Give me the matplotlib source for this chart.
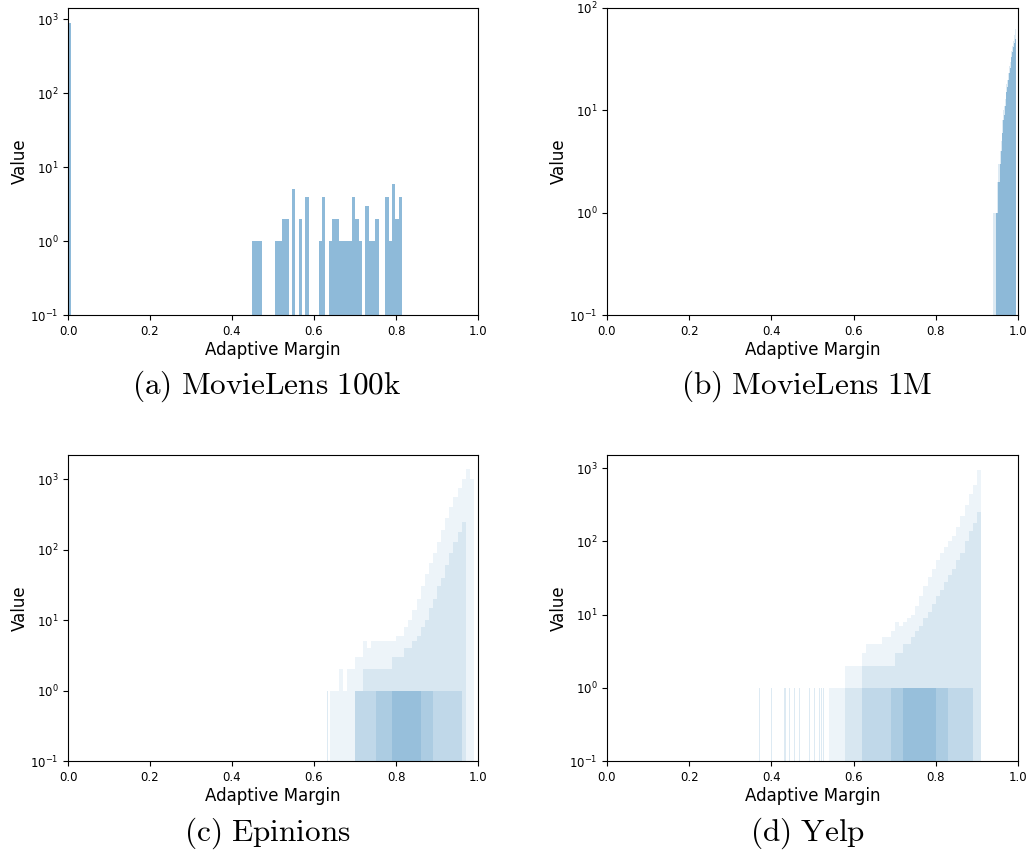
import numpy as np
import matplotlib
matplotlib.use("Agg")
import matplotlib.pyplot as plt
from matplotlib.ticker import NullLocator

plt.rcParams['mathtext.fontset'] = 'cm'

# (a) MovieLens 100k: 100 bins between 0 and 0.815, counts per bin index
a_edges = np.linspace(0, 0.815, 101)
a_counts = np.zeros(100)
a_nonzero = {0: 878, 55: 1, 56: 1, 57: 1, 62: 1, 63: 1, 64: 2, 65: 2, 67: 5,
             69: 2, 71: 4, 75: 1, 76: 4, 78: 1, 79: 2, 80: 2, 81: 1, 82: 1,
             83: 1, 84: 1, 85: 4, 86: 2, 87: 1, 89: 3, 90: 1, 91: 1, 92: 2,
             95: 4, 96: 1, 97: 6, 98: 2, 99: 4}
for k, v in a_nonzero.items():
    a_counts[k] = v

# (b) MovieLens 1M: bins of 0.002 starting at 0.938
b_edges = np.round(np.arange(0.938, 0.9941, 0.002), 4)
b_outer = [1, 1, 1, 1, 1, 2, 2, 3, 3, 4, 5, 6, 8, 10, 11, 13, 15, 18, 20,
           23, 27, 30, 34, 38, 43, 48, 55, 62]
b_main = [0, 0, 0, 0, 1, 1, 1, 2, 2, 3, 4, 5, 6, 8, 9, 11, 13, 15, 17,
          20, 23, 26, 29, 33, 37, 42, 46, 50]

# (c) Epinions: bins of 0.01 starting at 0.62, density layers
c_edges = np.round(np.arange(0.62, 0.9901, 0.01), 3)
c_l1 = [0, 0, 1, 1, 2, 1, 2, 2, 3, 3, 5, 4, 5, 5, 5, 5, 5, 5, 6, 6, 8, 10,
        14, 20, 30, 45, 65, 90, 130, 190, 280, 400, 550, 750, 1000, 1400, 1000]
c_l2 = [0, 0, 0, 0, 0, 0, 0, 0, 1, 1, 2, 2, 2, 2, 2, 2, 2, 3, 3, 3, 4, 4,
        5, 6, 8, 10, 15, 20, 30, 40, 60, 90, 130, 180, 250, 0, 0]
c_l3 = [0, 0, 0, 0, 0, 0, 0, 0, 1, 1, 1, 1, 1, 1, 1, 1, 1, 1, 1, 1, 1, 1,
        1, 1, 1, 1, 1, 1, 1, 1, 1, 1, 1, 1, 0, 0, 0]
c_l4 = [0, 0, 0, 0, 0, 0, 0, 0, 0, 0, 0, 0, 0, 1, 1, 1, 1, 1, 1, 1, 1, 1,
        1, 1, 1, 1, 1, 0, 0, 0, 0, 0, 0, 0, 0, 0, 0]
c_l5 = [0, 0, 0, 0, 0, 0, 0, 0, 0, 0, 0, 0, 0, 0, 0, 0, 0, 1, 1, 1, 1, 1,
        1, 1, 0, 0, 0, 0, 0, 0, 0, 0, 0, 0, 0, 0, 0]
c_sparse = [0.626, 0.633, 0.638]

# (d) Yelp: bins of 0.01 starting at 0.36, density layers
d_edges = np.round(np.arange(0.36, 0.9101, 0.01), 3)
d_l1 = [0, 0, 0, 0, 0, 0, 0, 0, 0, 0, 0, 0, 0, 0, 0, 0, 0, 0, 1, 1, 1, 1,
        2, 2, 2, 2, 3, 4, 4, 4, 4, 5, 5, 6, 8, 7, 8, 9, 10, 13, 18, 25, 33,
        42, 55, 70, 85, 100, 120, 160, 220, 320, 450, 600, 950]
d_l2 = [0, 0, 0, 0, 0, 0, 0, 0, 0, 0, 0, 0, 0, 0, 0, 0, 0, 0, 0, 0, 0, 0,
        1, 1, 1, 1, 2, 2, 2, 2, 2, 2, 2, 2, 3, 3, 4, 4, 5, 6, 7, 9, 11,
        14, 18, 22, 28, 35, 42, 55, 70, 100, 140, 180, 250]
d_l3 = [0, 0, 0, 0, 0, 0, 0, 0, 0, 0, 0, 0, 0, 0, 0, 0, 0, 0, 0, 0, 0, 0,
        0, 0, 0, 0, 1, 1, 1, 1, 1, 1, 1, 1, 1, 1, 1, 1, 1, 1, 1, 1, 1, 1,
        1, 1, 1, 1, 1, 1, 1, 1, 1, 0, 0]
d_l4 = [0, 0, 0, 0, 0, 0, 0, 0, 0, 0, 0, 0, 0, 0, 0, 0, 0, 0, 0, 0, 0, 0,
        0, 0, 0, 0, 0, 0, 0, 0, 0, 0, 0, 1, 1, 1, 1, 1, 1, 1, 1, 1, 1, 1,
        1, 1, 1, 0, 0, 0, 0, 0, 0, 0, 0]
d_l5 = [0, 0, 0, 0, 0, 0, 0, 0, 0, 0, 0, 0, 0, 0, 0, 0, 0, 0, 0, 0, 0, 0,
        0, 0, 0, 0, 0, 0, 0, 0, 0, 0, 0, 0, 0, 0, 1, 1, 1, 1, 1, 1, 1, 1,
        0, 0, 0, 0, 0, 0, 0, 0, 0, 0, 0]
d_sparse = [0.370, 0.401, 0.431, 0.436, 0.446, 0.457, 0.469, 0.493, 0.505,
            0.512, 0.517, 0.522, 0.527, 0.533]

captions = ['(a) MovieLens 100k', '(b) MovieLens 1M', '(c) Epinions', '(d) Yelp']
ytops = [1420, 100, 2200, 1520]

W, H = 1027, 855
fig = plt.figure(figsize=(W / 100, H / 100), dpi=100)


def box(l, t, r, b):
    return [l / W, 1 - b / H, (r - l) / W, (b - t) / H]


axes = [fig.add_axes(box(68, 8, 478, 315)),
        fig.add_axes(box(607, 8, 1018, 315)),
        fig.add_axes(box(68, 455, 478, 761)),
        fig.add_axes(box(607, 455, 1018, 761))]


def layer(ax, edges, counts, alpha):
    centers = (np.asarray(edges[:-1]) + np.asarray(edges[1:])) / 2
    ax.hist(centers, bins=edges, weights=counts, color='C0', alpha=alpha, log=True)


layer(axes[0], a_edges, a_counts, 0.5)

layer(axes[1], b_edges, b_outer, 0.15)
layer(axes[1], b_edges, b_main, 0.42)

alphas = (0.08, 0.10, 0.13, 0.12, 0.15)
for vals, al in zip((c_l1, c_l2, c_l3, c_l4, c_l5), alphas):
    layer(axes[2], c_edges, vals, al)
axes[2].hist(c_sparse, bins=np.arange(0.62, 0.64, 0.002), color='C0', alpha=0.15, log=True)

for vals, al in zip((d_l1, d_l2, d_l3, d_l4, d_l5), alphas):
    layer(axes[3], d_edges, vals, al)
axes[3].hist(d_sparse, bins=np.arange(0.36, 0.54, 0.002), color='C0', alpha=0.15, log=True)

centers_x = [267, 807, 267, 807]
centers_y = [386, 386, 833, 833]
for ax, cap, top, cx, cy in zip(axes, captions, ytops, centers_x, centers_y):
    ax.set_xlim(0, 1)
    ax.set_ylim(0.1, top)
    ax.yaxis.set_minor_locator(NullLocator())
    ax.tick_params(labelsize=8.5)
    ax.set_xlabel('Adaptive Margin', fontsize=12, labelpad=2)
    ax.set_ylabel('Value', fontsize=12, labelpad=1)
    txt = r'$\mathrm{' + cap.replace(' ', r'\ ') + '}$'
    fig.text(cx / W, 1 - cy / H, txt, fontsize=22.5, ha='center', va='center')

fig.savefig('out.png', dpi=100)
